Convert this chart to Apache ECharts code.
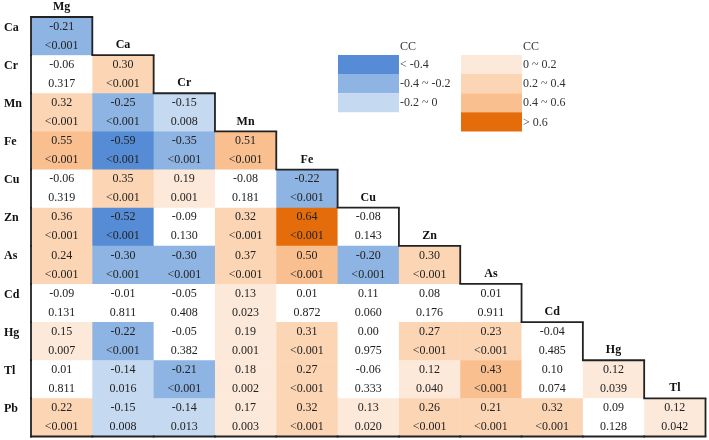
<!DOCTYPE html>
<html>
<head>
<meta charset="utf-8">
<script src="https://cdn.jsdelivr.net/npm/echarts@6/dist/echarts.min.js"></script>
<style>html,body{margin:0;padding:0;background:#fff;}#c{width:709px;height:440px;}</style>
</head>
<body>
<div id="c"></div>
<script>
const colNames = ['Mg','Ca','Cr','Mn','Fe','Cu','Zn','As','Cd','Hg','Tl'];
const rowNames = ['Ca','Cr','Mn','Fe','Cu','Zn','As','Cd','Hg','Tl','Pb'];

const ccCa = [-0.21];
const ccCr = [-0.06, 0.30];
const ccMn = [0.32, -0.25, -0.15];
const ccFe = [0.55, -0.59, -0.35, 0.51];
const ccCu = [-0.06, 0.35, 0.19, -0.08, -0.22];
const ccZn = [0.36, -0.52, -0.09, 0.32, 0.64, -0.08];
const ccAs = [0.24, -0.30, -0.30, 0.37, 0.50, -0.20, 0.30];
const ccCd = [-0.09, -0.01, -0.05, 0.13, 0.01, 0.11, 0.08, 0.01];
const ccHg = [0.15, -0.22, -0.05, 0.19, 0.31, 0.00, 0.27, 0.23, -0.04];
const ccTl = [0.01, -0.14, -0.21, 0.18, 0.27, -0.06, 0.12, 0.43, 0.10, 0.12];
const ccPb = [0.22, -0.15, -0.14, 0.17, 0.32, 0.13, 0.26, 0.21, 0.32, 0.09, 0.12];

const pCa = ['<0.001'];
const pCr = ['0.317', '<0.001'];
const pMn = ['<0.001', '<0.001', '0.008'];
const pFe = ['<0.001', '<0.001', '<0.001', '<0.001'];
const pCu = ['0.319', '<0.001', '0.001', '0.181', '<0.001'];
const pZn = ['<0.001', '<0.001', '0.130', '<0.001', '<0.001', '0.143'];
const pAs = ['<0.001', '<0.001', '<0.001', '<0.001', '<0.001', '<0.001', '<0.001'];
const pCd = ['0.131', '0.811', '0.408', '0.023', '0.872', '0.060', '0.176', '0.911'];
const pHg = ['0.007', '<0.001', '0.382', '0.001', '<0.001', '0.975', '<0.001', '<0.001', '0.485'];
const pTl = ['0.811', '0.016', '<0.001', '0.002', '<0.001', '0.333', '0.040', '<0.001', '0.074', '0.039'];
const pPb = ['<0.001', '0.008', '0.013', '0.003', '<0.001', '0.020', '<0.001', '<0.001', '<0.001', '0.128', '0.042'];

const legendBlue = ['< -0.4', '-0.4 ~ -0.2', '-0.2 ~ 0'];
const legendOrange = ['0 ~ 0.2', '0.2 ~ 0.4', '0.4 ~ 0.6', '> 0.6'];

const ccRows = [ccCa, ccCr, ccMn, ccFe, ccCu, ccZn, ccAs, ccCd, ccHg, ccTl, ccPb];
const pRows = [pCa, pCr, pMn, pFe, pCu, pZn, pAs, pCd, pHg, pTl, pPb];

const BLUES = ['#558cd5', '#8db4e2', '#c5d9f1'];
const ORANGES = ['#fde9d9', '#fcd5b4', '#fabf8f', '#e46c0a'];
const FONT = "'Liberation Serif', 'Times New Roman', serif";

function significant(p) {
  return p.charAt(0) === '<' || parseFloat(p) < 0.05;
}
function cellColor(cc, p) {
  if (!significant(p)) return '#ffffff';
  if (cc < 0) {
    if (cc < -0.4) return BLUES[0];
    if (cc <= -0.2) return BLUES[1];
    return BLUES[2];
  }
  if (cc > 0.6) return ORANGES[3];
  if (cc >= 0.4) return ORANGES[2];
  if (cc >= 0.2) return ORANGES[1];
  return ORANGES[0];
}

const data = [];
ccRows.forEach((row, r) => {
  row.forEach((cc, c) => {
    data.push([c, r, cc, pRows[r][c]]);
  });
});

const nRows = rowNames.length;

function renderItem(params, api) {
  const c = api.value(0), r = api.value(1);
  const item = data[params.dataIndex];
  const cc = item[2], p = item[3];
  const ctr = api.coord([c, r]);
  const sz = api.size([1, 1]);
  const w = sz[0], h = sz[1];
  const x0 = ctr[0] - w / 2, y0 = ctr[1] - h / 2;
  const x1 = x0 + w, y1 = y0 + h;
  const ch = [];
  ch.push({ type: 'rect', shape: { x: x0, y: y0, width: w + 0.5, height: h + 0.5 },
    style: { fill: cellColor(cc, p) }, z2: 1 });
  ch.push({ type: 'text', x: ctr[0], y: ctr[1] - 9.5, z2: 5,
    style: { text: cc.toFixed(2), fill: '#222', font: '12px ' + FONT, align: 'center', verticalAlign: 'middle' } });
  ch.push({ type: 'text', x: ctr[0], y: ctr[1] + 9.5, z2: 5,
    style: { text: p, fill: '#222', font: '12px ' + FONT, align: 'center', verticalAlign: 'middle' } });
  const ls = { stroke: '#222', lineWidth: 1.8 };
  if (c === 0) {
    ch.push({ type: 'text', x: x0 - 27, y: ctr[1] - 8.5, z2: 5,
      style: { text: rowNames[r], fill: '#111', font: 'bold 12px ' + FONT, align: 'left', verticalAlign: 'middle' } });
    ch.push({ type: 'line', shape: { x1: x0, y1: y0 - 0.9, x2: x0, y2: y1 + 0.9 }, style: ls, z2: 10 });
  }
  if (r === nRows - 1) {
    ch.push({ type: 'line', shape: { x1: x0 - 0.9, y1: y1, x2: x1 + 0.9, y2: y1 }, style: ls, z2: 10 });
  }
  if (c === r) {
    ch.push({ type: 'text', x: ctr[0], y: y0 - 10, z2: 5,
      style: { text: colNames[c], fill: '#111', font: 'bold 12px ' + FONT, align: 'center', verticalAlign: 'middle' } });
    ch.push({ type: 'line', shape: { x1: x0 - 0.9, y1: y0, x2: x1 + 0.9, y2: y0 }, style: ls, z2: 10 });
    ch.push({ type: 'line', shape: { x1: x1, y1: y0, x2: x1, y2: y1 }, style: ls, z2: 10 });
  }
  return { type: 'group', children: ch };
}

const graphics = [];
function legendBlock(x, y, colors, labels) {
  const rh = 19.1;
  graphics.push({ type: 'text', x: x + 62, y: y - 8,
    style: { text: 'CC', fill: '#333', font: '12px ' + FONT, verticalAlign: 'middle' } });
  colors.forEach((col, i) => {
    graphics.push({ type: 'rect', x: x, y: y + i * rh,
      shape: { width: 61, height: rh }, style: { fill: col } });
    graphics.push({ type: 'text', x: x + 62, y: y + i * rh + rh / 2 + 0.5,
      style: { text: labels[i], fill: '#333', font: '12px ' + FONT, verticalAlign: 'middle' } });
  });
}
legendBlock(338, 55, BLUES, legendBlue);
legendBlock(461, 55, ORANGES, legendOrange);

const chart = echarts.init(document.getElementById('c'));
chart.setOption({
  animation: false,
  backgroundColor: '#fff',
  grid: { left: 31, right: 3.5, top: 17, bottom: 3.5 },
  xAxis: { type: 'category', data: colNames, show: false },
  yAxis: { type: 'category', data: rowNames, inverse: true, show: false },
  series: [{
    type: 'custom',
    renderItem: renderItem,
    data: data,
    encode: { x: 0, y: 1 },
    clip: false
  }],
  graphic: graphics
});
</script>
</body>
</html>
